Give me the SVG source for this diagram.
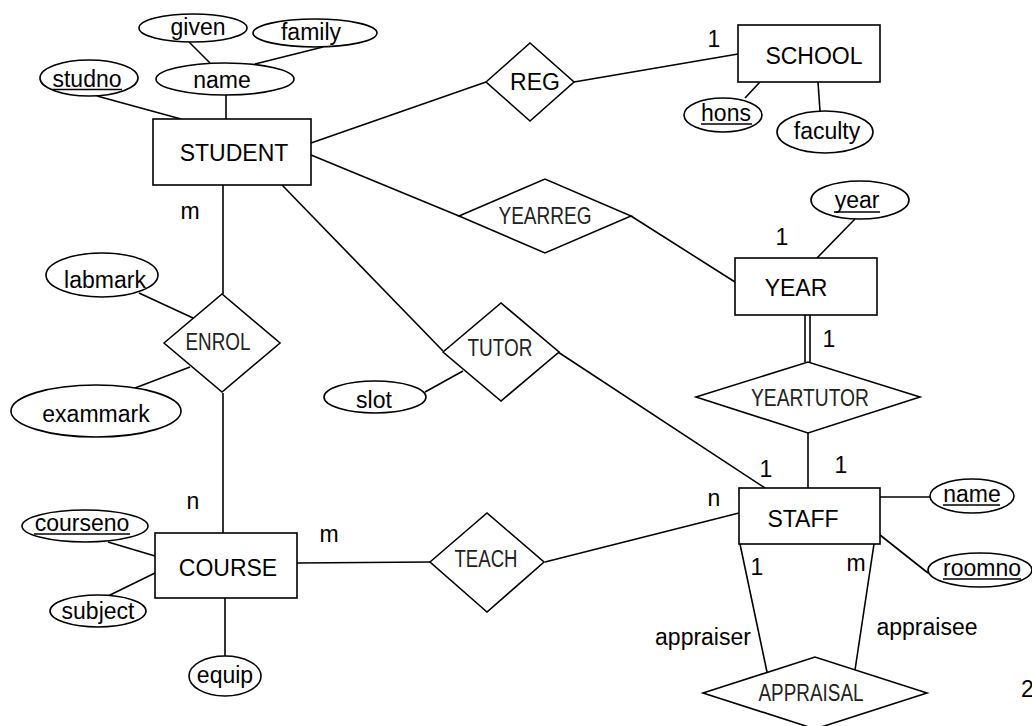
<svg xmlns="http://www.w3.org/2000/svg" width="1032" height="726" viewBox="0 0 1032 726">
<style>
.shape{fill:#fff;stroke:#000;stroke-width:1.6}
.ln{stroke:#000;stroke-width:1.6;fill:none}
.ul{stroke:#000;stroke-width:1.4}
text{font-family:"Liberation Sans",Arial,sans-serif;font-size:23px;fill:#000;text-anchor:middle}
.rel{font-family:"Liberation Sans Narrow","Liberation Sans",Arial,sans-serif;font-size:24.5px;fill:#222}
.st{text-anchor:start}
</style>
<rect width="1032" height="726" fill="#fff"/>
<g id="connectors">
<line class="ln" x1="189" y1="42" x2="210" y2="63"/>
<line class="ln" x1="323" y1="47" x2="255" y2="64"/>
<line class="ln" x1="97" y1="96" x2="181" y2="119"/>
<line class="ln" x1="226" y1="95" x2="226" y2="119"/>
<line class="ln" x1="311" y1="143" x2="486" y2="82"/>
<line class="ln" x1="574" y1="82" x2="738" y2="54"/>
<line class="ln" x1="745" y1="98" x2="760" y2="82"/>
<line class="ln" x1="818" y1="82" x2="820" y2="111"/>
<line class="ln" x1="311" y1="155" x2="459" y2="216"/>
<line class="ln" x1="631" y1="216" x2="735" y2="282"/>
<line class="ln" x1="855" y1="219" x2="817" y2="258"/>
<line class="ln" x1="805" y1="315" x2="805" y2="362"/>
<line class="ln" x1="810" y1="315" x2="810" y2="362"/>
<line class="ln" x1="808" y1="433" x2="808" y2="488"/>
<line class="ln" x1="282" y1="185" x2="443" y2="351"/>
<line class="ln" x1="558" y1="352" x2="765" y2="488"/>
<line class="ln" x1="425" y1="392" x2="463" y2="371"/>
<line class="ln" x1="223" y1="185" x2="223" y2="294"/>
<line class="ln" x1="139" y1="293" x2="193" y2="318"/>
<line class="ln" x1="135" y1="388" x2="190" y2="367"/>
<line class="ln" x1="223" y1="393" x2="223" y2="533"/>
<line class="ln" x1="108" y1="542" x2="155" y2="556"/>
<line class="ln" x1="108" y1="596" x2="155" y2="573"/>
<line class="ln" x1="225" y1="598" x2="225" y2="656"/>
<line class="ln" x1="297" y1="563" x2="430" y2="562"/>
<line class="ln" x1="545" y1="562" x2="739" y2="513"/>
<line class="ln" x1="880" y1="497" x2="930" y2="497"/>
<line class="ln" x1="880" y1="535" x2="928" y2="573"/>
<line class="ln" x1="740" y1="544" x2="767" y2="672"/>
<line class="ln" x1="874" y1="544" x2="855" y2="670"/>
</g>
<g id="labels">
<text x="714" y="47">1</text>
<text x="190" y="219">m</text>
<text x="782" y="245">1</text>
<text x="829" y="347">1</text>
<text x="193" y="509">n</text>
<text x="329" y="542">m</text>
<text x="766" y="477">1</text>
<text x="841" y="473">1</text>
<text x="714" y="506">n</text>
<text x="757" y="575">1</text>
<text x="856" y="571">m</text>
<text x="703" y="645">appraiser</text>
<text x="927" y="635">appraisee</text>
<text class="st" x="1021" y="697">2</text>
</g>
<g id="STUDENT"><rect class="shape" x="153" y="119" width="158" height="66"/><text x="234" y="161">STUDENT</text></g>
<g id="SCHOOL"><rect class="shape" x="738" y="25" width="142" height="57"/><text x="814" y="64">SCHOOL</text></g>
<g id="YEAR"><rect class="shape" x="735" y="258" width="142" height="57"/><text x="796" y="296">YEAR</text></g>
<g id="STAFF"><rect class="shape" x="739" y="488" width="141" height="56"/><text x="803" y="527">STAFF</text></g>
<g id="COURSE"><rect class="shape" x="155" y="533" width="142" height="65"/><text x="228" y="576">COURSE</text></g>
<g id="REG"><polygon class="shape" points="486,82 530,43 574,82 530,121"/><text x="535" y="90">REG</text></g>
<g id="YEARREG"><polygon class="shape" points="459,216 545,179 631,216 545,253"/><text class="rel" x="545" y="224" textLength="93" lengthAdjust="spacingAndGlyphs">YEARREG</text></g>
<g id="ENROL"><polygon class="shape" points="164,343 222,294 280,343 222,392"/><text class="rel" x="218" y="350" textLength="65" lengthAdjust="spacingAndGlyphs">ENROL</text></g>
<g id="TUTOR"><polygon class="shape" points="443,352 501,303 559,352 501,401"/><text class="rel" x="500" y="356" textLength="65" lengthAdjust="spacingAndGlyphs">TUTOR</text></g>
<g id="YEARTUTOR"><polygon class="shape" points="696,397 808,362 920,397 808,433"/><text class="rel" x="810" y="406" textLength="118" lengthAdjust="spacingAndGlyphs">YEARTUTOR</text></g>
<g id="TEACH"><polygon class="shape" points="430,562 487,513 544,562 487,612"/><text class="rel" x="486" y="567" textLength="63" lengthAdjust="spacingAndGlyphs">TEACH</text></g>
<g id="APPRAISAL"><polygon class="shape" points="703,693 815,657 927,693 815,729"/><text class="rel" x="811" y="701" textLength="105" lengthAdjust="spacingAndGlyphs">APPRAISAL</text></g>
<g id="given"><ellipse class="shape" cx="193" cy="28" rx="54" ry="14"/><text x="198" y="35">given</text></g>
<g id="family"><ellipse class="shape" cx="315" cy="33" rx="62" ry="14"/><text x="311" y="40">family</text></g>
<g id="studno"><ellipse class="shape" cx="89" cy="78" rx="49" ry="18"/><text x="87" y="87">studno</text><line class="ul" x1="52" y1="89.5" x2="122" y2="89.5"/></g>
<g id="name"><ellipse class="shape" cx="225" cy="79" rx="69" ry="16"/><text x="222" y="88">name</text></g>
<g id="hons"><ellipse class="shape" cx="723" cy="115" rx="39" ry="17"/><text x="726" y="121">hons</text><line class="ul" x1="701" y1="124" x2="752" y2="124"/></g>
<g id="faculty"><ellipse class="shape" cx="825" cy="132" rx="48" ry="21"/><text x="827" y="139">faculty</text></g>
<g id="year"><ellipse class="shape" cx="860" cy="200" rx="49" ry="19"/><text x="857" y="208">year</text><line class="ul" x1="834" y1="212" x2="880" y2="212"/></g>
<g id="labmark"><ellipse class="shape" cx="102" cy="275" rx="56" ry="22"/><text x="105" y="288">labmark</text></g>
<g id="exammark"><ellipse class="shape" cx="96" cy="411" rx="85" ry="26"/><text x="96" y="422">exammark</text></g>
<g id="slot"><ellipse class="shape" cx="375" cy="397" rx="51" ry="16"/><text x="374" y="408">slot</text></g>
<g id="courseno"><ellipse class="shape" cx="85" cy="526" rx="63" ry="16"/><text x="82" y="531">courseno</text><line class="ul" x1="34" y1="534" x2="130" y2="534"/></g>
<g id="subject"><ellipse class="shape" cx="98" cy="611" rx="48" ry="16"/><text x="98" y="619">subject</text></g>
<g id="equip"><ellipse class="shape" cx="225" cy="676" rx="36" ry="20"/><text x="225" y="683">equip</text></g>
<g id="staffname"><ellipse class="shape" cx="972" cy="496" rx="42" ry="17"/><text x="972" y="502">name</text><line class="ul" x1="943" y1="505" x2="1000" y2="505"/></g>
<g id="roomno"><ellipse class="shape" cx="980" cy="570" rx="52" ry="17"/><text x="982" y="576">roomno</text><line class="ul" x1="943" y1="579" x2="1021" y2="579"/></g>
</svg>
